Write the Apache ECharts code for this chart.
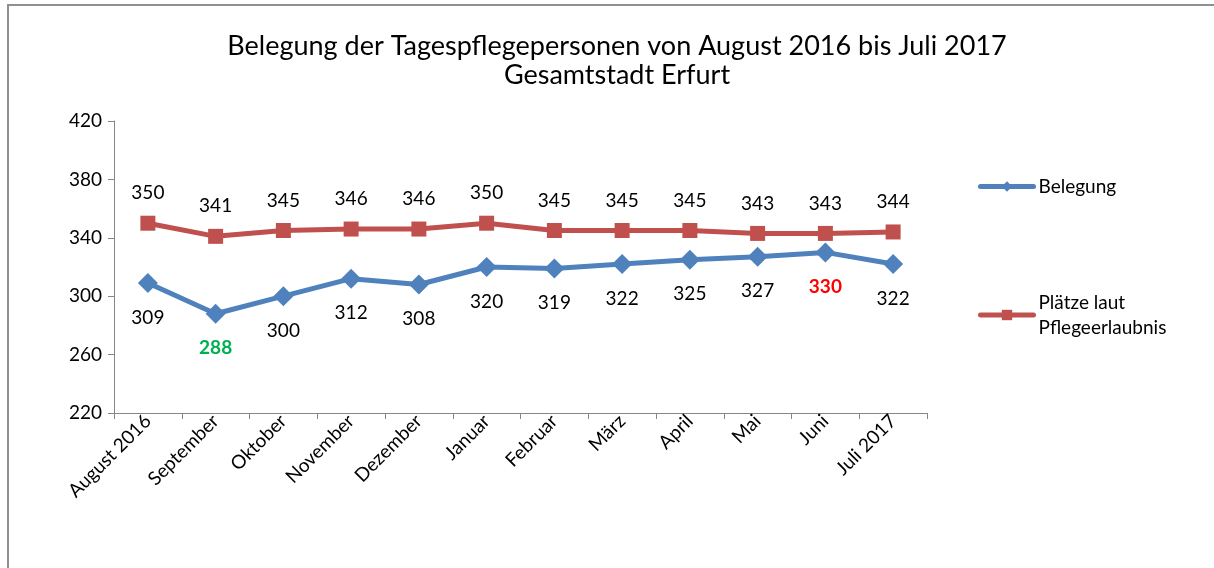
<!DOCTYPE html>
<html>
<head>
<meta charset="utf-8">
<script src="https://cdn.jsdelivr.net/npm/echarts@6/dist/echarts.min.js"></script>
<style>
  html, body { margin: 0; padding: 0; background: #fff; overflow: hidden; }
  #frame {
    position: absolute; left: 7px; top: 4px; width: 1300px; height: 700px;
    border-left: 2px solid #909090; border-top: 2px solid #909090;
  }
  #chart { position: absolute; left: 0; top: 0; width: 1214px; height: 568px; }
</style>
</head>
<body>
<div id="frame"></div>
<div id="chart"></div>
<script>
const months = ['August 2016', 'September', 'Oktober', 'November', 'Dezember', 'Januar',
  'Februar', 'März', 'April', 'Mai', 'Juni', 'Juli 2017']
const belegung = [309, 288, 300, 312, 308, 320, 319, 322, 325, 327, 330, 322]
const plaetze = [350, 341, 345, 346, 346, 350, 345, 345, 345, 343, 343, 344]
// highlighted labels: lowest and highest occupancy
const minIdx = 1
const maxIdx = 10

const font = 'Lato, "Open Sans", sans-serif'

const blueData = belegung.map((v, i) => {
  if (i === minIdx) return { value: v, label: { color: '#00B050', fontWeight: 'bold' } }
  if (i === maxIdx) return { value: v, label: { color: '#FF0000', fontWeight: 'bold' } }
  return v
})

const option = {
  animation: false,
  textStyle: { fontFamily: font },
  title: {
    text: 'Belegung der Tagespflegepersonen von August 2016 bis Juli 2017\nGesamtstadt Erfurt',
    left: 612, top: 27, textAlign: 'center',
    textStyle: { fontSize: 27, fontWeight: 'normal', color: '#000', lineHeight: 29, fontFamily: font }
  },
  grid: { left: 114, right: 287, top: 121, bottom: 155 },
  legend: [{
    data: ['Belegung'],
    left: 973, top: 172, orient: 'vertical',
    itemWidth: 53, itemHeight: 13, itemGap: 10,
    lineStyle: { width: 5, cap: 'round' },
    textStyle: { fontSize: 19, color: '#000', fontFamily: font }
  }, {
    data: ['Plätze laut Pflegeerlaubnis'],
    left: 973, top: 285, orient: 'vertical',
    itemWidth: 53, itemHeight: 13,
    lineStyle: { width: 5, cap: 'round' },
    formatter: () => 'Plätze laut\nPflegeerlaubnis',
    textStyle: { fontSize: 19, color: '#000', lineHeight: 25, fontFamily: font }
  }],
  xAxis: {
    type: 'category',
    data: months,
    boundaryGap: true,
    axisLine: { lineStyle: { color: '#868686', width: 1 } },
    axisTick: { show: true, alignWithLabel: false, length: 6, lineStyle: { color: '#868686' } },
    axisLabel: { rotate: 45, fontSize: 19, color: '#000', margin: 5, interval: 0, fontFamily: font }
  },
  yAxis: {
    type: 'value',
    min: 220, max: 420, interval: 40,
    axisLine: { show: true, lineStyle: { color: '#868686', width: 1 } },
    axisTick: { show: true, length: 6, lineStyle: { color: '#868686' } },
    splitLine: { show: false },
    axisLabel: { fontSize: 19, color: '#000', margin: 12, fontFamily: font }
  },
  series: [{
    name: 'Belegung',
    type: 'line',
    data: blueData,
    symbol: 'diamond',
    symbolSize: 20,
    lineStyle: { color: '#4F81BD', width: 5 },
    itemStyle: { color: '#4F81BD' },
    label: { show: true, position: 'bottom', distance: 15, fontSize: 19, color: '#000', fontFamily: font }
  }, {
    name: 'Plätze laut Pflegeerlaubnis',
    type: 'line',
    data: plaetze,
    symbol: 'rect',
    symbolSize: 15,
    lineStyle: { color: '#C0504D', width: 5 },
    itemStyle: { color: '#C0504D' },
    label: { show: true, position: 'top', distance: 13, fontSize: 19, color: '#000', fontFamily: font }
  }]
}

const chart = echarts.init(document.getElementById('chart'))
chart.setOption(option)
</script>
</body>
</html>
